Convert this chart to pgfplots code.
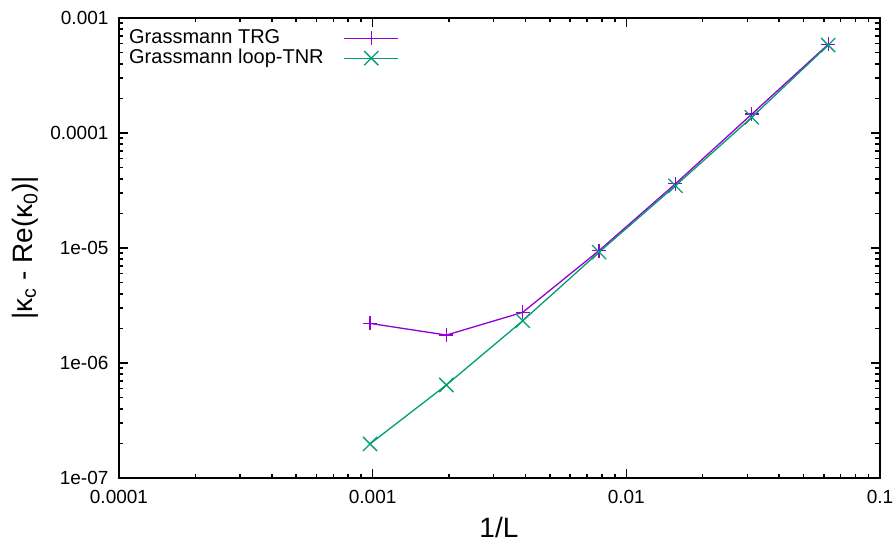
\documentclass[border=0pt]{standalone}
\usepackage{fontspec}
\setmainfont{Liberation Sans}
\usepackage{pgfplots}
\pgfplotsset{compat=1.18}
\definecolor{gpviolet}{HTML}{9400D3}
\definecolor{gpgreen}{HTML}{009E73}
\begin{document}
\begin{tikzpicture}
\begin{loglogaxis}[
  at={(0pt,0pt)}, anchor=south west,
  scale only axis, width=761pt, height=460pt,
  xmin=1e-4, xmax=0.1, ymin=1e-7, ymax=1e-3,
  axis line style={line width=2pt},
  every tick/.style={black, line width=1.6pt},
  major tick length=9pt, minor tick length=4.5pt,
  tick align=inside,
  xtick={1e-4,1e-3,1e-2,1e-1},
  xticklabels={0.0001,0.001,0.01,0.1},
  minor xtick={2e-4,3e-4,4e-4,5e-4,6e-4,7e-4,8e-4,9e-4,2e-3,3e-3,4e-3,5e-3,6e-3,7e-3,8e-3,9e-3,2e-2,3e-2,4e-2,5e-2,6e-2,7e-2,8e-2,9e-2},
  ytick={1e-7,1e-6,1e-5,1e-4,1e-3},
  yticklabels={1e-07,1e-06,1e-05,0.0001,0.001},
  minor ytick={2e-7,3e-7,4e-7,5e-7,6e-7,7e-7,8e-7,9e-7,2e-6,3e-6,4e-6,5e-6,6e-6,7e-6,8e-6,9e-6,2e-5,3e-5,4e-5,5e-5,6e-5,7e-5,8e-5,9e-5,2e-4,3e-4,4e-4,5e-4,6e-4,7e-4,8e-4,9e-4},
  /pgf/number format/assume math mode=true,
  tick label style={font=\fontsize{19}{22}\selectfont},
  xticklabel style={yshift=-9pt},
  yticklabel style={xshift=-7pt},
  xlabel={1/L},
  ylabel={|κ\textsubscript{c} - Re(κ\textsubscript{0})|},
  label style={font=\fontsize{28}{32}\selectfont},
  xlabel style={at={(axis description cs:0.4993,-0.108)}, anchor=center},
  ylabel style={at={(axis description cs:-0.1235,0.5)}, anchor=center, rotate=0},
  legend style={at={(axis description cs:0,1)}, anchor=north west, xshift=9pt, yshift=-10pt,
    draw=none, fill=none, inner sep=0pt, row sep=0pt, column sep=19pt,
    font=\fontsize{20}{22}\selectfont,
    nodes={inner sep=1pt, text height=14pt, text depth=4pt}},
  legend cell align=left,
  legend plot pos=right,
  legend image code/.code={
    \draw[mark repeat=2, mark phase=2] plot coordinates {(0pt,0pt) (27pt,0pt) (54pt,0pt)};
  },
]
\addplot[color=gpviolet, line width=1.3pt, mark=+, mark size=7pt, mark options={line width=1.3pt}]
  coordinates {
  (0.0009765625,2.21e-6)
  (0.001953125,1.75e-6)
  (0.00390625,2.76e-6)
  (0.0078125,9.5e-6)
  (0.015625,3.62e-5)
  (0.03125,1.46e-4)
  (0.0625,5.9e-4)
  };
\addlegendentry{Grassmann TRG}
\addplot[color=gpgreen, line width=1.3pt, mark=x, mark size=10pt, mark options={line width=1.3pt}]
  coordinates {
  (0.0009765625,1.98e-7)
  (0.001953125,6.44e-7)
  (0.00390625,2.33e-6)
  (0.0078125,9.2e-6)
  (0.015625,3.48e-5)
  (0.03125,1.37e-4)
  (0.0625,5.82e-4)
  };
\addlegendentry{Grassmann loop-TNR}
\end{loglogaxis}
\pgfresetboundingbox
\useasboundingbox (-119pt,-65pt) rectangle (777pt,478pt);
\end{tikzpicture}
\end{document}
